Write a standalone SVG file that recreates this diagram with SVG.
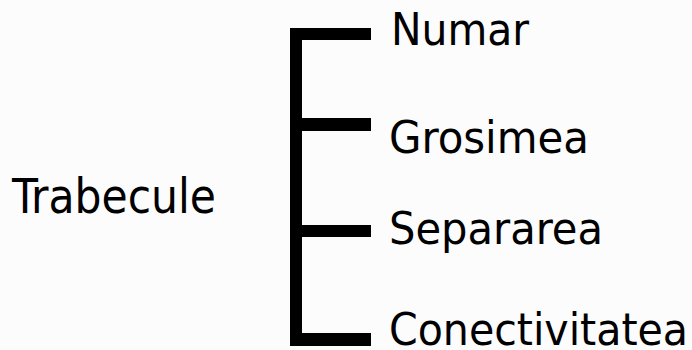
<svg xmlns="http://www.w3.org/2000/svg" width="692" height="350" viewBox="0 0 692 350">
  <style>
    .t { font-family: "DejaVu Sans Condensed", "DejaVu Sans", sans-serif; font-size: 45px; fill: #000; }
    .bar { fill: #000; }
  </style>
  <rect width="692" height="350" fill="#fcfcfc"/>
  <g id="connectors">
    <rect class="bar" x="290" y="28" width="12" height="318"/>
    <rect class="bar" x="290" y="28" width="81" height="12"/>
    <rect class="bar" x="290" y="118" width="81" height="13"/>
    <rect class="bar" x="290" y="225" width="81" height="12"/>
    <rect class="bar" x="290" y="333" width="81" height="13"/>
  </g>
  <g id="trabecule">
    <text class="t" x="12" y="213" style="font-size:48px" textLength="204" lengthAdjust="spacingAndGlyphs">Trabecule</text>
  </g>
  <g id="numar">
    <text class="t" x="391" y="45" textLength="138" lengthAdjust="spacingAndGlyphs">Numar</text>
  </g>
  <g id="grosimea">
    <text class="t" x="389" y="153" textLength="200" lengthAdjust="spacingAndGlyphs">Grosimea</text>
  </g>
  <g id="separarea">
    <text class="t" x="389" y="244" textLength="214" lengthAdjust="spacingAndGlyphs">Separarea</text>
  </g>
  <g id="conectivitatea">
    <text class="t" x="389" y="345" textLength="299" lengthAdjust="spacingAndGlyphs">Conectivitatea</text>
  </g>
</svg>
